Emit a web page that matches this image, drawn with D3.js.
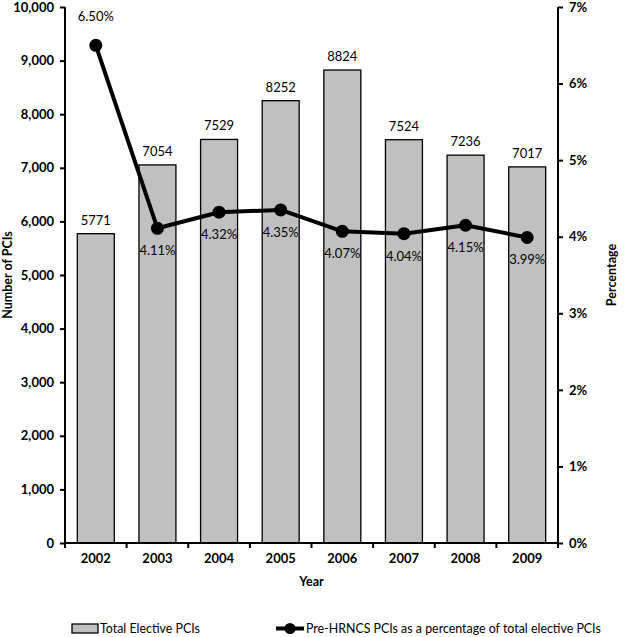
<!DOCTYPE html>
<html><head><meta charset="utf-8">
<script src="https://cdn.jsdelivr.net/npm/d3@7"></script>
<style>body{margin:0;background:#fff}svg{display:block}text{font-family:Lato,"Open Sans",sans-serif;fill:#000}</style>
</head><body><svg id="c" width="626" height="637"></svg>
<script>
const years = ["2002","2003","2004","2005","2006","2007","2008","2009"];
const totalPCIs = [5771,7054,7529,8252,8824,7524,7236,7017];
const pctPreHRNCS = [6.50,4.11,4.32,4.35,4.07,4.04,4.15,3.99];
const leftTicks = [0,1000,2000,3000,4000,5000,6000,7000,8000,9000,10000];
const rightTicks = [0,1,2,3,4,5,6,7];

const svg = d3.select("#c");
const L = 65, R = 558, T = 7, B = 543;
const x = d3.scaleBand().domain(years).range([L,R]).paddingInner(0.4).paddingOuter(0.2);
const xb = d3.scaleBand().domain(years).range([L,R]);
const yL = d3.scaleLinear().domain([0,10000]).range([B,T]);
const yR = d3.scaleLinear().domain([0,7]).range([B,T]);

// bars
svg.append("g").selectAll("rect").data(years).join("rect")
  .attr("x", d=>x(d)).attr("width", x.bandwidth())
  .attr("y", (d,i)=>yL(totalPCIs[i])).attr("height",(d,i)=>B-yL(totalPCIs[i]))
  .attr("fill","#c0c0c0").attr("stroke","#000").attr("stroke-width",1.3);

svg.append("g").selectAll("text").data(years).join("text")
  .attr("x", d=>x(d)+x.bandwidth()/2).attr("y",(d,i)=>yL(totalPCIs[i])-9)
  .attr("text-anchor","middle").attr("font-size",13).text((d,i)=>totalPCIs[i]);

// axes
const axL = d3.axisLeft(yL).tickValues(leftTicks).tickFormat(d3.format(",")).tickSize(5);
const gL = svg.append("g").attr("transform",`translate(${L},0)`).call(axL);
const axR = d3.axisRight(yR).tickValues(rightTicks).tickFormat(d=>d+"%").tickSize(5);
const gR = svg.append("g").attr("transform",`translate(${R},0)`).call(axR);
const axB = d3.axisBottom(xb).tickSize(0);
const gB = svg.append("g").attr("transform",`translate(0,${B})`).call(axB);
// category boundary ticks
svg.append("g").selectAll("line").data(years.concat(["end"])).join("line")
  .attr("x1",(d,i)=>L+i*xb.bandwidth()).attr("x2",(d,i)=>L+i*xb.bandwidth())
  .attr("y1",B).attr("y2",B+5).attr("stroke","#000").attr("stroke-width",2);
[gL,gR,gB].forEach(g=>{
  g.selectAll(".domain").attr("stroke","#000").attr("stroke-width",2);
  g.selectAll(".tick line").attr("stroke","#000").attr("stroke-width",2);
  g.selectAll(".tick text").attr("font-size",13).attr("font-weight","bold").style("font-family","Lato,sans-serif");
});
gL.select(".domain").attr("d",`M0,${T}V${B}`);
gR.select(".domain").attr("d",`M0,${T}V${B}`);
gB.select(".domain").attr("d",`M${L},0H${R}`);
gL.selectAll(".tick text").attr("x",-11);
gR.selectAll(".tick text").attr("x",11);
gB.selectAll(".tick text").attr("y",11);

// line
const cx = d=>xb(d)+xb.bandwidth()/2;
const line = d3.line().x((d,i)=>cx(years[i])).y(d=>yR(d));
svg.append("path").datum(pctPreHRNCS).attr("d",line)
  .attr("fill","none").attr("stroke","#000").attr("stroke-width",4).attr("stroke-linejoin","round");
svg.append("g").selectAll("circle").data(pctPreHRNCS).join("circle")
  .attr("cx",(d,i)=>cx(years[i])).attr("cy",d=>yR(d)).attr("r",6.5).attr("fill","#000");
svg.append("g").selectAll("text").data(pctPreHRNCS).join("text")
  .attr("x",(d,i)=>cx(years[i])).attr("y",(d,i)=>i===0?yR(d)-24:yR(d)+27)
  .attr("text-anchor","middle").attr("font-size",13).text(d=>d.toFixed(2)+"%");

// axis titles
svg.append("text").attr("transform",`translate(12,${(T+B)/2}) rotate(-90)`)
  .attr("text-anchor","middle").attr("font-size",12.5).attr("font-weight","bold").text("Number of PCIs");
svg.append("text").attr("transform",`translate(616,${(T+B)/2}) rotate(-90)`)
  .attr("text-anchor","middle").attr("font-size",12.5).attr("font-weight","bold").text("Percentage");
svg.append("text").attr("x",(L+R)/2).attr("y",586).attr("text-anchor","middle")
  .attr("font-size",12.5).attr("font-weight","bold").text("Year");

// legend
svg.append("rect").attr("x",72).attr("y",624).attr("width",26).attr("height",9)
  .attr("fill","#c0c0c0").attr("stroke","#000").attr("stroke-width",1.3);
svg.append("text").attr("x",100).attr("y",633).attr("font-size",12.4).text("Total Elective PCIs");
svg.append("line").attr("x1",276).attr("x2",304).attr("y1",628.5).attr("y2",628.5)
  .attr("stroke","#000").attr("stroke-width",4);
svg.append("circle").attr("cx",290).attr("cy",628.5).attr("r",5.5).attr("fill","#000");
svg.append("text").attr("x",306).attr("y",633).attr("font-size",12.4).text("Pre-HRNCS PCIs as a percentage of total elective PCIs");
</script></body></html>
